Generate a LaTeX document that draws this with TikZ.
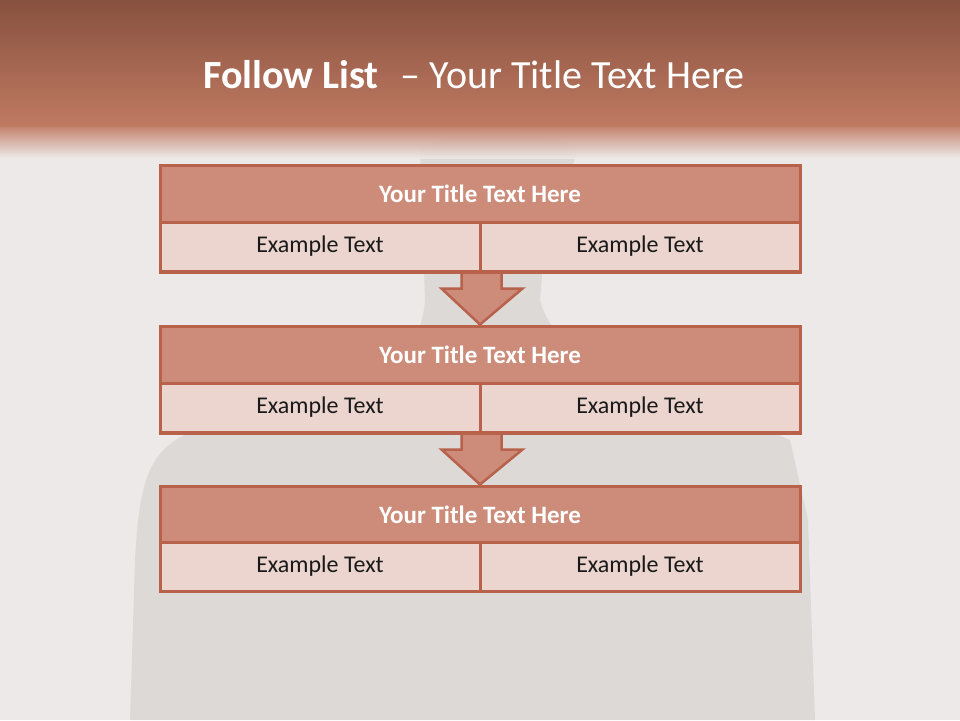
\documentclass[tikz,border=0pt]{standalone}
\usepackage{fontspec}
\setmainfont{Carlito}
\usetikzlibrary{calc}
\definecolor{bgc}{HTML}{ECE9E8}
\definecolor{sil}{HTML}{CFCAC8}
\definecolor{bartop}{HTML}{87513F}
\definecolor{barbot}{HTML}{C07A62}
\definecolor{edge}{HTML}{B8624B}
\definecolor{titlefill}{HTML}{CD8C79}
\definecolor{exfill}{HTML}{EBD5CE}
\tikzset{
  titlebox/.style={draw=edge, line width=3pt, fill=titlefill, minimum width=640pt, minimum height=57pt, inner sep=0pt, text=white, font=\fontsize{25pt}{28pt}\selectfont\bfseries},
  exbox/.style={draw=edge, line width=3pt, fill=exfill, minimum width=320pt, minimum height=49pt, inner sep=0pt, text=black!90, font=\fontsize{24pt}{28pt}\selectfont},
  downarrow/.style={draw=edge, line width=2.5pt, fill=titlefill, line join=miter}
}
\begin{document}
\begin{tikzpicture}[x=1pt,y=-1pt]
\useasboundingbox (0,0) rectangle (960,720);
% background
\fill[bgc] (0,0) rectangle (960,720);
\fill[sil, opacity=0.5] (420,150) .. controls (440,128) and (560,128) .. (578,150) -- (545,240) -- (540,300)
  .. controls (560,380) and (700,400) .. (790,440) -- (808,520) -- (815,720) -- (130,720) -- (135,560)
  .. controls (140,470) and (150,440) .. (220,422) .. controls (330,410) and (420,380) .. (425,300) -- cycle;
% title bar
\shade[top color=bartop, bottom color=barbot] (0,0) rectangle (960,126);
\shade[top color=barbot, bottom color=bgc, opacity=0.92] (0,126) rectangle (960,158);
\node[anchor=base west, inner sep=0pt, text=white, font=\fontsize{40pt}{44pt}\selectfont] (title) at (203,88) {\textbf{Follow List}\hspace{22pt}–\hspace{9pt}Your Title Text Here};
% boxes
\node[titlebox] (t1) at (480,193.5) {Your Title Text Here};
\node[exbox] (a1) at (320,246.5) {Example Text};
\node[exbox] (b1) at (640,246.5) {Example Text};
\node[titlebox] (t2) at (480,354.5) {Your Title Text Here};
\node[exbox] (a2) at (320,407.5) {Example Text};
\node[exbox] (b2) at (640,407.5) {Example Text};
\node[titlebox] (t3) at (480,514.5) {Your Title Text Here};
\node[exbox] (a3) at (320,566.5) {Example Text};
\node[exbox] (b3) at (640,566.5) {Example Text};
% arrows
\foreach \src/\dst in {a1/t2, a2/t3}{
  \coordinate (s) at (\src.south east);
  \coordinate (d) at (\dst.north);
  \draw[downarrow] ($(s)+(-20,-1)$) -- ($(s)+(-20,16)$) -- ($(s)+(-40,16)$) -- (d)
     -- ($(s)+(41,16)$) -- ($(s)+(20,16)$) -- ($(s)+(20,-1)$);
  \fill[titlefill] ($(s)+(-18.7,-1)$) rectangle ($(s)+(18.7,18)$);
}
% redraw box edges over the arrow tops
\draw[edge, line width=3pt] (a1.south west) -- (b1.south east);
\draw[edge, line width=3pt] (a2.south west) -- (b2.south east);
\end{tikzpicture}
\end{document}
